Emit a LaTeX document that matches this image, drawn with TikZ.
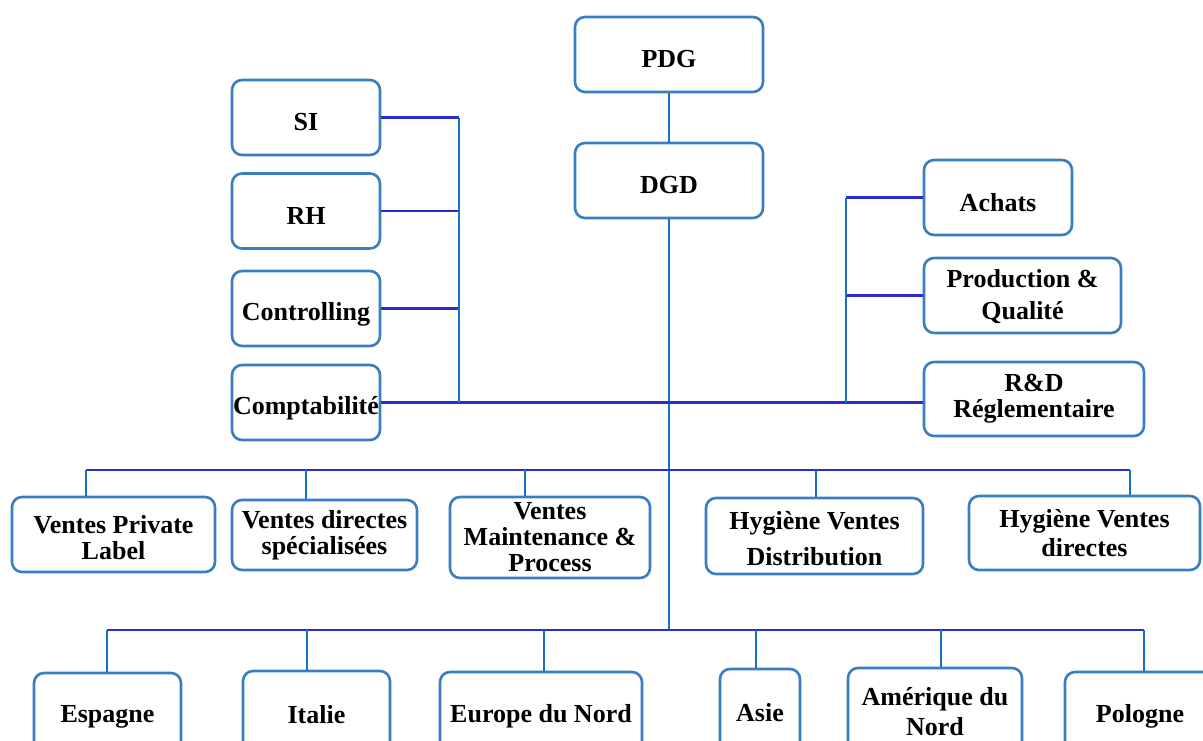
\documentclass[tikz,border=0pt]{standalone}
\usepackage{fontspec}
\setmainfont{Liberation Serif}
\definecolor{boxblue}{RGB}{58,125,193}
\definecolor{busblue}{RGB}{44,44,204}
\definecolor{dropblue}{RGB}{22,112,200}
\newcommand{\sunk}[2][5pt]{\raisebox{-#1}[\height][\depth]{#2}}

\begin{document}
\begin{tikzpicture}[x=1pt, y=-1pt, unit/.style={draw=boxblue, line width=2.6pt, rounded corners=10pt, fill=white, align=center, inner sep=0pt, font=\fontsize{26}{26}\selectfont\bfseries}, hbar/.style={draw=busblue, line width=2.2pt}, vbar/.style={draw=dropblue, line width=2.4pt}]
  \useasboundingbox (0,0) rectangle (1203,740);

  % direction
  \node[unit, minimum width=188pt, minimum height=75pt] (pdg) at (669,54.5) {\sunk{PDG}};
  \node[unit, minimum width=188pt, minimum height=75pt] (dgd) at (669,180.5) {\sunk{DGD}};

  % support functions
  \node[unit, minimum width=148pt, minimum height=75pt] (si) at (306,117.5) {\sunk{SI}};
  \node[unit, minimum width=148pt, minimum height=75pt] (rh) at (306,211) {\sunk{RH}};
  \node[unit, minimum width=148pt, minimum height=75pt] (ctrl) at (306,308.5) {\sunk[6pt]{Controlling}};
  \node[unit, minimum width=148pt, minimum height=75pt] (compta) at (306,402.5) {\sunk[6pt]{Comptabilité}};
  \node[unit, minimum width=148pt, minimum height=75pt] (achats) at (998,197.5) {\sunk{Achats}};
  \node[unit, minimum width=197pt, minimum height=75pt] (prod) at (1022.5,295.5) {Production \&\\[3pt]\sunk[3pt]{Qualité}};
  \node[unit, minimum width=220pt, minimum height=74pt] (rd) at (1034,399) {R\&D\\Réglementaire};

  % sales
  \node[unit, minimum width=203pt, minimum height=75pt] (vpl) at (113.5,534.5) {\sunk[3pt]{Ventes Private}\\\sunk[3pt]{Label}};
  \node[unit, minimum width=185pt, minimum height=70pt] (vds) at (324.5,535) {Ventes directes\\spécialisées};
  \node[unit, minimum width=200pt, minimum height=81pt] (vmp) at (550,537.5) {Ventes\\Maintenance \&\\Process};
  \node[unit, minimum width=217pt, minimum height=76pt] (hvd) at (814.5,536) {\sunk[3pt]{Hygiène Ventes}\\[10pt]\sunk[3pt]{Distribution}};
  \node[unit, minimum width=231pt, minimum height=74pt] (hvdir) at (1084.5,533) {Hygiène Ventes\\[3pt]directes};

  % countries
  \node[unit, minimum width=147pt, minimum height=88pt] (esp) at (107.5,717) {Espagne};
  \node[unit, minimum width=147pt, minimum height=88pt] (ita) at (316.5,715) {Italie};
  \node[unit, minimum width=202pt, minimum height=88pt] (eun) at (541,716) {Europe du Nord};
  \node[unit, minimum width=80pt, minimum height=88pt] (asie) at (760,713) {Asie};
  \node[unit, minimum width=174pt, minimum height=88pt] (amn) at (935,712) {Amérique du\\[4pt]Nord};
  \node[unit, minimum width=150pt, minimum height=88pt] (pol) at (1140,716) {Pologne};

  % buses
  \coordinate (lbus) at (459,0);
  \coordinate (rbus) at (846,0);
  \coordinate (t1) at (86,470);
  \coordinate (t2) at (306,470);
  \coordinate (t3) at (525,470);
  \coordinate (t4) at (816,470);
  \coordinate (t5) at (1130,470);
  \coordinate (b1) at (107,630);
  \coordinate (b2) at (307,630);
  \coordinate (b3) at (544,630);
  \coordinate (b4) at (756,630);
  \coordinate (b5) at (941,630);
  \coordinate (b6) at (1144,630);

  \draw[vbar] (pdg) -- (dgd);
  \draw[vbar] (dgd.south) -- (dgd.south |- b1);

  \draw[hbar] (si.east) -- (si.east -| lbus);
  \draw[hbar] (rh.east) -- (rh.east -| lbus);
  \draw[hbar] (ctrl.east) -- (ctrl.east -| lbus);
  \draw[hbar] (compta.east) -- (compta.east -| rd.west);
  \draw[vbar] (si.east -| lbus) -- (compta.east -| lbus);
  \draw[hbar] (achats.west) -- (achats.west -| rbus);
  \draw[hbar] (prod.west) -- (prod.west -| rbus);
  \draw[vbar] (achats.west -| rbus) -- (compta.east -| rbus);

  \draw[hbar] (t1) -- (t5);
  \draw[vbar] (t1) -- (t1 |- vpl.north);
  \draw[vbar] (t2) -- (t2 |- vds.north);
  \draw[vbar] (t3) -- (t3 |- vmp.north);
  \draw[vbar] (t4) -- (t4 |- hvd.north);
  \draw[vbar] (t5) -- (t5 |- hvdir.north);

  \draw[hbar] (b1) -- (b6);
  \draw[vbar] (b1) -- (b1 |- esp.north);
  \draw[vbar] (b2) -- (b2 |- ita.north);
  \draw[vbar] (b3) -- (b3 |- eun.north);
  \draw[vbar] (b4) -- (b4 |- asie.north);
  \draw[vbar] (b5) -- (b5 |- amn.north);
  \draw[vbar] (b6) -- (b6 |- pol.north);
\end{tikzpicture}
\end{document}
